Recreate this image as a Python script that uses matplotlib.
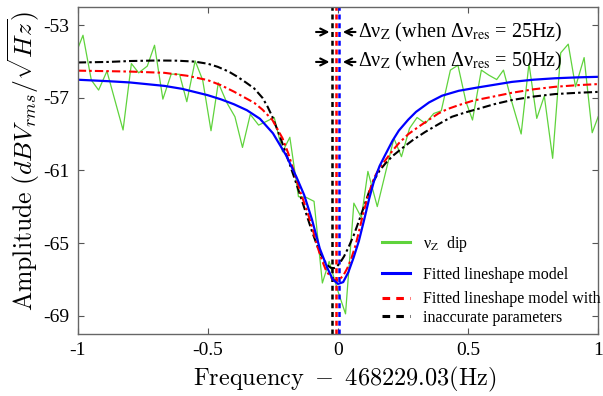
import matplotlib
matplotlib.use("Agg")
import matplotlib.pyplot as plt
from matplotlib.lines import Line2D

plt.rcParams['font.family'] = 'serif'
plt.rcParams['font.serif'] = ['Liberation Serif', 'DejaVu Serif']
plt.rcParams['mathtext.fontset'] = 'cm'
plt.rcParams['axes.unicode_minus'] = False

# measured dip (green), frequency offset in Hz
dip_x = [-1.0, -0.980, -0.948, -0.920, -0.888, -0.826, -0.794, -0.766, -0.733, -0.705,
         -0.673, -0.641, -0.609, -0.581, -0.549, -0.520, -0.488, -0.460, -0.427, -0.396,
         -0.367, -0.337, -0.305, -0.277, -0.245, -0.213, -0.185, -0.152, -0.124, -0.092,
         -0.060, -0.034, 0.001, 0.029, 0.061, 0.090, 0.115, 0.151, 0.183, 0.215,
         0.244, 0.275, 0.304, 0.336, 0.368, 0.397, 0.432, 0.461, 0.492, 0.517,
         0.551, 0.580, 0.610, 0.636, 0.668, 0.704, 0.734, 0.764, 0.793, 0.825,
         0.856, 0.885, 0.913, 0.946, 0.977, 1.0]
dip_y = [-54.28, -53.55, -56.02, -56.57, -55.53, -58.77, -55.11, -55.62, -55.25, -54.10,
         -57.07, -55.69, -55.70, -57.21, -54.96, -56.02, -58.81, -56.17, -57.27, -58.04,
         -59.73, -57.91, -58.50, -58.31, -58.08, -59.97, -59.17, -62.44, -62.47, -62.70,
         -67.20, -66.01, -67.70, -68.90, -62.80, -63.60, -61.05, -62.99, -61.10, -59.23,
         -60.24, -58.68, -58.08, -58.41, -57.86, -57.71, -55.47, -55.20, -57.22, -58.22,
         -55.47, -55.75, -55.99, -55.47, -57.22, -58.99, -55.11, -58.13, -56.90, -60.33,
         -54.52, -54.04, -56.39, -54.78, -58.92, -58.04]

# fitted lineshape model (blue)
fit_x = [-1.0, -0.884, -0.8, -0.667, -0.6, -0.501, -0.45, -0.4, -0.35, -0.3,
         -0.25, -0.2, -0.16, -0.13, -0.1, -0.07, -0.04, -0.02, 0.0, 0.02,
         0.04, 0.06, 0.08, 0.1, 0.12, 0.138, 0.16, 0.183, 0.21, 0.234,
         0.27, 0.3, 0.35, 0.4, 0.464, 0.54, 0.6, 0.668, 0.75, 0.834,
         0.92, 1.0]
fit_y = [-56.0, -56.08, -56.15, -56.34, -56.5, -56.85, -57.08, -57.35, -57.68, -58.15,
         -58.95, -60.15, -61.35, -62.35, -63.7, -65.3, -66.4, -67.0, -67.25, -67.15,
         -66.6, -65.8, -64.9, -63.75, -62.55, -61.6, -60.75, -60.1, -59.35, -58.8,
         -58.2, -57.77, -57.25, -56.88, -56.61, -56.42, -56.28, -56.12, -56.0, -55.92,
         -55.87, -55.84]

# fits with inaccurate parameters (red: 25 Hz, black: 50 Hz)
red_x = [-1.0, -0.8, -0.667, -0.58, -0.501, -0.45, -0.398, -0.35, -0.322, -0.29,
         -0.252, -0.213, -0.19, -0.175, -0.143, -0.118, -0.1, -0.079, -0.06, -0.047,
         -0.03, -0.015, 0.004, 0.02, 0.036, 0.05, 0.068, 0.085, 0.1, 0.12,
         0.138, 0.16, 0.183, 0.21, 0.234, 0.27, 0.31, 0.35, 0.387, 0.42,
         0.464, 0.52, 0.6, 0.668, 0.75, 0.834, 0.92, 1.0]
red_y = [-55.5, -55.55, -55.62, -55.78, -56.02, -56.3, -56.67, -57.05, -57.27, -57.65,
         -58.22, -59.23, -60.1, -60.8, -62.25, -63.26, -64.1, -65.2, -66.0, -66.47,
         -66.85, -67.05, -67.02, -66.8, -66.38, -65.9, -65.1, -64.1, -63.2, -62.2,
         -61.43, -60.85, -60.42, -59.9, -59.5, -59.0, -58.59, -58.2, -57.85, -57.62,
         -57.4, -57.15, -56.92, -56.72, -56.53, -56.39, -56.3, -56.24]

blk_x = [-1.0, -0.884, -0.8, -0.692, -0.62, -0.552, -0.5, -0.462, -0.42, -0.386,
         -0.354, -0.322, -0.29, -0.27, -0.252, -0.22, -0.188, -0.156, -0.124, -0.1,
         -0.085, -0.07, -0.054, -0.04, -0.028, -0.015, -0.009, 0.005, 0.023, 0.04,
         0.061, 0.08, 0.102, 0.12, 0.138, 0.16, 0.183, 0.21, 0.246, 0.29,
         0.336, 0.39, 0.438, 0.49, 0.54, 0.6, 0.668, 0.75, 0.834, 0.92, 1.0]
blk_y = [-55.05, -55.02, -54.97, -54.94, -54.95, -55.0, -55.12, -55.29, -55.55, -55.84,
         -56.15, -56.48, -57.0, -57.5, -58.05, -59.25, -60.55, -61.9, -63.3, -64.35,
         -64.95, -65.5, -65.95, -66.22, -66.36, -66.38, -66.35, -66.15, -65.74, -65.25,
         -64.55, -63.8, -62.9, -62.15, -61.55, -61.0, -60.6, -60.2, -59.78, -59.3,
         -58.87, -58.42, -58.04, -57.8, -57.6, -57.35, -57.12, -56.93, -56.79, -56.72, -56.67]

# centre frequencies of the three fits
centers = [-0.022, -0.009, 0.004]
center_colors = ['black', 'red', 'blue']

xticks = [-1, -0.5, 0, 0.5, 1]
xtick_labels = ['-1', '-0.5', '0', '0.5', '1']
yticks = [-53, -57, -61, -65, -69]
ytick_labels = ['-53', '-57', '-61', '-65', '-69']

fig = plt.figure(figsize=(6.03, 3.96), dpi=100)
ax = fig.add_axes([0.129, 0.157, 0.863, 0.825])

green = '#5fd33c'
dashdot = (0, (4, 1.5, 1.2, 1.5))
ax.plot(dip_x, dip_y, color=green, lw=0.9)
for cx, cc in zip(centers, center_colors):
    ax.axvline(cx, color=cc, lw=1.8, linestyle=(0, (2, 1.5)))
ax.plot(blk_x, blk_y, color='black', lw=1.5, linestyle=dashdot)
ax.plot(red_x, red_y, color='red', lw=1.5, linestyle=dashdot)
ax.plot(fit_x, fit_y, color='blue', lw=1.6)

ax.set_xlim(-1, 1)
ax.set_ylim(-70, -52)
ax.set_xticks(xticks)
ax.set_xticklabels(xtick_labels)
ax.set_yticks(yticks)
ax.set_yticklabels(ytick_labels)
ax.tick_params(direction='in', top=True, right=True, length=4, labelsize=14,
               color='#555555', pad=6)
for s in ax.spines.values():
    s.set_color('#666666')
    s.set_linewidth(1.0)

ax.set_xlabel(r'$\mathrm{Frequency}\ -\ 468229.03(\mathrm{Hz})$', fontsize=17.5, labelpad=4)
ax.xaxis.label.set_x(0.513)
ax.set_ylabel(r'$\mathrm{Amplitude}\ (dBV_{rms}/\sqrt{Hz})$', fontsize=18.5, labelpad=1)
ax.yaxis.label.set_y(0.53)

# arrows marking the shift of the centre frequency
rows = [(-53.37, '25'), (-55.02, '50')]
arrow = dict(arrowstyle='->,head_length=0.5,head_width=0.25', color='black', lw=1.5)
for ry, hz in rows:
    ax.annotate('', xy=(-0.022, ry), xytext=(-0.095, ry), arrowprops=arrow)
    ax.annotate('', xy=(0.008, ry), xytext=(0.078, ry), arrowprops=arrow)
    ax.text(0.077, ry, 'Δν$_{\\mathrm{Z}}$ (when Δν$_{\\mathrm{res}}$ = ' + hz + 'Hz)',
            fontsize=14.5, va='center', ha='left', math_fontfamily='stix')

h1 = [Line2D([], [], color=green, lw=2.2), Line2D([], [], color='blue', lw=2.2)]
leg1 = ax.legend(h1, ['ν$_{\\mathrm{Z}}$  dip', 'Fitted lineshape model'],
                 loc='upper left', bbox_to_anchor=(0.572, 0.325), frameon=False,
                 fontsize=11.5, handlelength=1.75, handletextpad=0.8, labelspacing=0.8,
                 borderaxespad=0)
for t in leg1.get_texts():
    t.set_math_fontfamily('stix')
ax.add_artist(leg1)
h2 = [Line2D([], [], color='red', lw=2.2, linestyle=(0, (2.5, 2))),
      Line2D([], [], color='black', lw=2.2, linestyle=(0, (2.5, 2)))]
ax.legend(h2, ['Fitted lineshape model with', 'inaccurate parameters'],
          loc='upper left', bbox_to_anchor=(0.572, 0.15), frameon=False,
          fontsize=11.5, handlelength=1.75, handletextpad=0.8, labelspacing=0.15,
          borderaxespad=0)

fig.savefig('out.png', dpi=100)
